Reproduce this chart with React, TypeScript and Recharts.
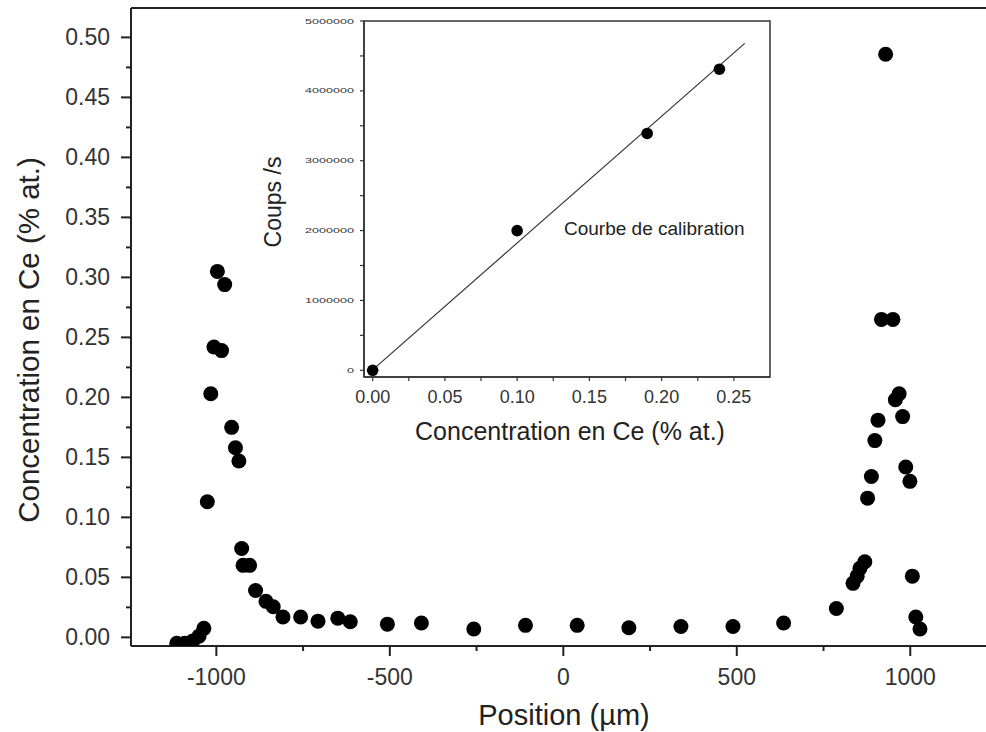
import React from 'react';
import { ScatterChart, Scatter, XAxis, YAxis, ReferenceLine, ReferenceArea } from 'recharts';

// Ce concentration profile across the sample
const positions = [
  -1114, -1091, -1068, -1050, -1036, -1026, -1016, -1007, -997, -985,
  -976, -956, -945, -935, -927, -923, -904, -887, -857, -836,
  -808, -757, -707, -650, -614, -507, -409, -258, -109, 40,
  189, 339, 489, 635, 787, 835, 847, 855, 869, 877,
  888, 898, 907, 917, 929, 950, 957, 968, 978, 987,
  999, 1006, 1016, 1028,
];
const concentrations = [
  -0.005, -0.005, -0.003, 0.001, 0.0075, 0.113, 0.203, 0.242, 0.305, 0.239,
  0.294, 0.175, 0.158, 0.147, 0.074, 0.06, 0.06, 0.039, 0.03, 0.0255,
  0.017, 0.017, 0.0135, 0.016, 0.013, 0.011, 0.012, 0.007, 0.01, 0.01,
  0.008, 0.009, 0.009, 0.012, 0.024, 0.045, 0.051, 0.0575, 0.063, 0.116,
  0.134, 0.164, 0.181, 0.265, 0.486, 0.265, 0.198, 0.203, 0.184, 0.142,
  0.13, 0.051, 0.017, 0.007,
];

// calibration inset
const calConcentrations = [0, 0.1, 0.19, 0.24];
const calCounts = [0, 2000000, 3390000, 4310000];
const fitConcentrations = [-0.003, 0.2575];
const fitCounts = [-47000, 4680000];

const xTicks = [-1000, -750, -500, -250, 0, 250, 500, 750, 1000];
const yTicks = [
  0, 0.025, 0.05, 0.075, 0.1, 0.125, 0.15, 0.175, 0.2, 0.225, 0.25,
  0.275, 0.3, 0.325, 0.35, 0.375, 0.4, 0.425, 0.45, 0.475, 0.5,
];
const calXTicks = [0, 0.025, 0.05, 0.075, 0.1, 0.125, 0.15, 0.175, 0.2, 0.225, 0.25];
const calYTicks = [
  0, 500000, 1000000, 1500000, 2000000, 2500000, 3000000, 3500000, 4000000, 4500000, 5000000,
];

const X_MIN = -1246;
const X_MAX = 1250;
const Y_MIN = -0.0072;
const Y_MAX = 0.5245;
const CAL_X_MIN = -0.006;
const CAL_X_MAX = 0.275;
const CAL_Y_MIN = -96000;
const CAL_Y_MAX = 5000000;

const FONT = '"Liberation Sans", Arial, Helvetica, sans-serif';
const INK = '#222';

const profile = positions.map((x, i) => ({ x, y: concentrations[i] }));
const calPoints = calConcentrations.map((x, i) => ({ x, y: calCounts[i] }));
const calFit = fitConcentrations.map((x, i) => ({ x, y: fitCounts[i] }));

// fixed-position title; recharts hands label props like angle/position, so use own names
const AxisTitle = ({ tx, ty, rot = 0, text, size, anchor = 'middle', base }: any) => (
  <text
    x={tx}
    y={ty}
    transform={rot ? `rotate(${rot} ${tx} ${ty})` : undefined}
    textAnchor={anchor}
    dominantBaseline={base}
    fontSize={size}
    fontFamily={FONT}
    fill={INK}
  >
    {text}
  </text>
);

const MainXTick = ({ x, y, payload }: any) => {
  const major = payload.value % 500 === 0;
  return (
    <g>
      <line x1={x} x2={x} y1={y} y2={y + (major ? 10 : 5)} stroke={INK} strokeWidth={2} />
      {major && (
        <text x={x} y={y + 39} textAnchor="middle" fontSize={23} fontFamily={FONT} fill="#333">
          {payload.value}
        </text>
      )}
    </g>
  );
};

const MainYTick = ({ x, y, payload, index }: any) => {
  const major = index % 2 === 0;
  return (
    <g>
      <line x1={x - (major ? 10 : 5)} x2={x} y1={y} y2={y} stroke={INK} strokeWidth={2} />
      {major && (
        <text x={x - 21} y={y} textAnchor="end" dominantBaseline="central" fontSize={23} fontFamily={FONT} fill="#333">
          {payload.value.toFixed(2)}
        </text>
      )}
    </g>
  );
};

const CalXTick = ({ x, y, payload, index }: any) => (
  <g>
    <line x1={x} x2={x} y1={y} y2={y + 4} stroke="#333" strokeWidth={1.2} />
    {index % 2 === 0 && (
      <text x={x} y={y + 26} textAnchor="middle" fontSize={18} fontFamily={FONT} fill="#333">
        {payload.value.toFixed(2)}
      </text>
    )}
  </g>
);

const CalYTick = ({ x, y, payload, index }: any) => {
  const label = String(payload.value);
  return (
    <g>
      <line x1={x - 4} x2={x} y1={y} y2={y} stroke="#333" strokeWidth={1.2} />
      {index % 2 === 0 && (
        <text
          x={x - 10}
          y={y}
          textAnchor="end"
          dominantBaseline="central"
          fontSize={8}
          fontFamily={FONT}
          fill="#333"
          textLength={7 * label.length}
          lengthAdjust="spacingAndGlyphs"
        >
          {label}
        </text>
      )}
    </g>
  );
};

const bigDot = (p: any) => <circle cx={p.cx} cy={p.cy} r={7.5} fill="#000" />;
const smallDot = (p: any) => <circle cx={p.cx} cy={p.cy} r={5.8} fill="#000" />;
const noDot = () => <g />;

export default function App() {
  return (
    <div style={{ position: 'absolute', left: 0, top: 0, width: 986, height: 732, overflow: 'hidden', background: '#fff' }}>
      <ScatterChart width={1010} height={732} margin={{ top: 8, right: 13, bottom: 0, left: 0 }}>
        <XAxis
          type="number"
          dataKey="x"
          domain={[X_MIN, X_MAX]}
          allowDataOverflow
          ticks={xTicks}
          interval={0}
          height={86}
          tickSize={0}
          tickMargin={0}
          tickLine={false}
          tick={<MainXTick />}
          axisLine={{ stroke: INK, strokeWidth: 2 }}
          label={<AxisTitle tx={564} ty={725} text="Position (µm)" size={29} />}
        />
        <YAxis
          type="number"
          dataKey="y"
          domain={[Y_MIN, Y_MAX]}
          allowDataOverflow
          ticks={yTicks}
          interval={0}
          width={131}
          tickSize={0}
          tickMargin={0}
          tickLine={false}
          tick={<MainYTick />}
          axisLine={{ stroke: INK, strokeWidth: 2 }}
          label={<AxisTitle tx={28} ty={340} rot={-90} base="central" text="Concentration en Ce (% at.)" size={29.5} />}
        />
        <ReferenceLine y={Y_MAX} stroke={INK} strokeWidth={2} />
        <Scatter data={profile} shape={bigDot} isAnimationActive={false} />
      </ScatterChart>

      <div style={{ position: 'absolute', left: 240, top: 0 }}>
        <ScatterChart width={560} height={460} margin={{ top: 21, right: 30, bottom: 0, left: 0 }}>
          <XAxis
            type="number"
            dataKey="x"
            domain={[CAL_X_MIN, CAL_X_MAX]}
            allowDataOverflow
            ticks={calXTicks}
            interval={0}
            height={83}
            tickSize={0}
            tickMargin={0}
            tickLine={false}
            tick={<CalXTick />}
            axisLine={{ stroke: '#333', strokeWidth: 1.5 }}
            label={<AxisTitle tx={330} ty={440} text="Concentration en Ce (% at.)" size={25} />}
          />
          <YAxis
            type="number"
            dataKey="y"
            domain={[CAL_Y_MIN, CAL_Y_MAX]}
            allowDataOverflow
            ticks={calYTicks}
            interval={0}
            width={124}
            tickSize={0}
            tickMargin={0}
            tickLine={false}
            tick={<CalYTick />}
            axisLine={{ stroke: '#333', strokeWidth: 1.5 }}
            label={<AxisTitle tx={33} ty={202} rot={-90} base="central" text="Coups /s" size={23} />}
          />
          <ReferenceArea
            x1={CAL_X_MIN}
            x2={CAL_X_MAX}
            y1={CAL_Y_MIN}
            y2={CAL_Y_MAX}
            fill="none"
            fillOpacity={0}
            stroke="#333"
            strokeWidth={1.5}
            label={<AxisTitle tx={324} ty={235} anchor="start" text="Courbe de calibration" size={19} />}
          />
          <Scatter data={calFit} shape={noDot} line={{ stroke: '#333', strokeWidth: 1.2 }} isAnimationActive={false} />
          <Scatter data={calPoints} shape={smallDot} isAnimationActive={false} />
        </ScatterChart>
      </div>
    </div>
  );
}
